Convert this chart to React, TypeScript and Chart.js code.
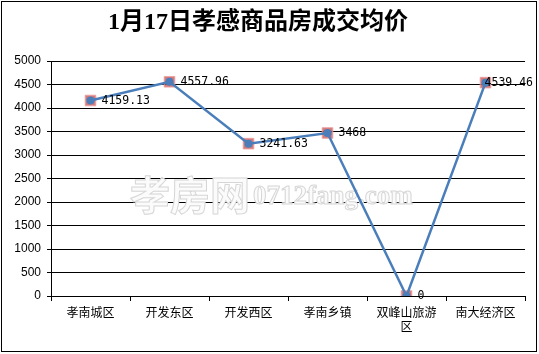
import React, { useEffect, useRef } from "react";
import { Chart, registerables } from "chart.js";

Chart.register(...registerables);

const TITLE = "1月17日孝感商品房成交均价";
const WATERMARK_CN = "孝房网";
const WATERMARK_EN = "0712fang.com";
const categories: (string | string[])[] = ["孝南城区", "开发东区", "开发西区", "孝南乡镇", ["双峰山旅游", "区"], "南大经济区"];
const prices = [4159.13, 4557.96, 3241.63, 3468, 0, 4539.46];
const priceLabels = ["4159.13", "4557.96", "3241.63", "3468", "0", "4539.46"];
const Y_MIN = 0;
const Y_MAX = 5000;
const Y_STEP = 500;

const decorPlugin = {
  id: "decor",
  beforeDraw(chart: any) {
    const ctx = chart.ctx;
    ctx.save();
    ctx.fillStyle = "#ffffff";
    ctx.fillRect(0, 0, chart.width, chart.height);
    ctx.restore();
  },
  beforeDatasetsDraw(chart: any) {
    const ctx = chart.ctx;
    ctx.save();
    ctx.textBaseline = "middle";
    ctx.textAlign = "left";
    ctx.lineWidth = 1;
    ctx.strokeStyle = "#d6d6d6";
    ctx.fillStyle = "#fbfbfb";
    ctx.font = "bold 40px 'Noto Sans CJK SC'";
    ctx.fillText(WATERMARK_CN, 130, 195);
    ctx.strokeText(WATERMARK_CN, 130, 195);
    ctx.font = "bold 27px 'Liberation Serif'";
    ctx.fillText(WATERMARK_EN, 253, 197);
    ctx.strokeText(WATERMARK_EN, 253, 197);
    ctx.restore();
  },
  afterDraw(chart: any) {
    const ctx = chart.ctx;
    ctx.save();
    ctx.fillStyle = "#000";
    ctx.textAlign = "center";
    ctx.textBaseline = "middle";
    ctx.font = "bold 24px 'Liberation Serif', 'Noto Sans CJK SC'";
    ctx.fillText(TITLE, 258, 23);
    const meta = chart.getDatasetMeta(0);
    ctx.font = "11.5px 'DejaVu Sans Mono'";
    ctx.textAlign = "left";
    meta.data.forEach((pt: any, i: number) => {
      const txt = priceLabels[i];
      const w = ctx.measureText(txt).width;
      let x = pt.x + 11;
      if (x + w > 533) x = 533 - w;
      ctx.fillText(txt, x, pt.y);
    });
    ctx.strokeStyle = "#000";
    ctx.lineWidth = 1;
    ctx.strokeRect(1.5, 1.5, 535, 350);
    ctx.restore();
  },
};

export default function App() {
  const ref = useRef<HTMLCanvasElement>(null);
  useEffect(() => {
    document.body.style.margin = "0";
    const chart = new Chart(ref.current as HTMLCanvasElement, {
      type: "line",
      data: {
        labels: categories,
        datasets: [
          {
            label: "price",
            data: prices,
            borderColor: "#4a7ebb",
            borderWidth: 2.5,
            pointStyle: "circle",
            pointRadius: 4,
            pointBackgroundColor: "#4a7ebb",
            pointBorderWidth: 0,
            tension: 0,
            order: 0,
          },
          {
            label: "marker",
            data: prices,
            showLine: false,
            pointStyle: "rect",
            pointRadius: 7.5,
            pointBackgroundColor: "rgba(200,90,90,0.8)",
            pointBorderColor: "rgba(235,160,160,0.9)",
            pointBorderWidth: 1,
            order: 1,
          },
        ],
      },
      options: {
        animation: false,
        responsive: false,
        layout: { padding: { left: 0, right: 14, top: 61, bottom: 0 } },
        plugins: { legend: { display: false }, tooltip: { enabled: false }, title: { display: false } },
        scales: {
          x: {
            offset: true,
            grid: { offset: true, drawOnChartArea: false, color: "#000", tickLength: 5, tickColor: "#000" },
            border: { color: "#000", width: 1 },
            ticks: { color: "#000", font: { family: "'Noto Sans CJK SC'", size: 12 }, padding: 4, maxRotation: 0, autoSkip: false },
            afterFit(scale: any) {
              scale.height = 58;
            },
          },
          y: {
            min: Y_MIN,
            max: Y_MAX,
            ticks: {
              stepSize: Y_STEP,
              color: "#000",
              font: { family: "'Liberation Sans'", size: 12 },
              padding: 6,
              callback: (v: any) => String(v),
            },
            grid: { color: "#000", lineWidth: 1, tickLength: 4, tickColor: "#000" },
            border: { color: "#000", width: 1 },
            afterFit(scale: any) {
              scale.width = 51;
            },
          },
        },
      },
      plugins: [decorPlugin],
    });
    return () => chart.destroy();
  }, []);
  return <canvas ref={ref} width={539} height={354} style={{ display: "block" }} />;
}
